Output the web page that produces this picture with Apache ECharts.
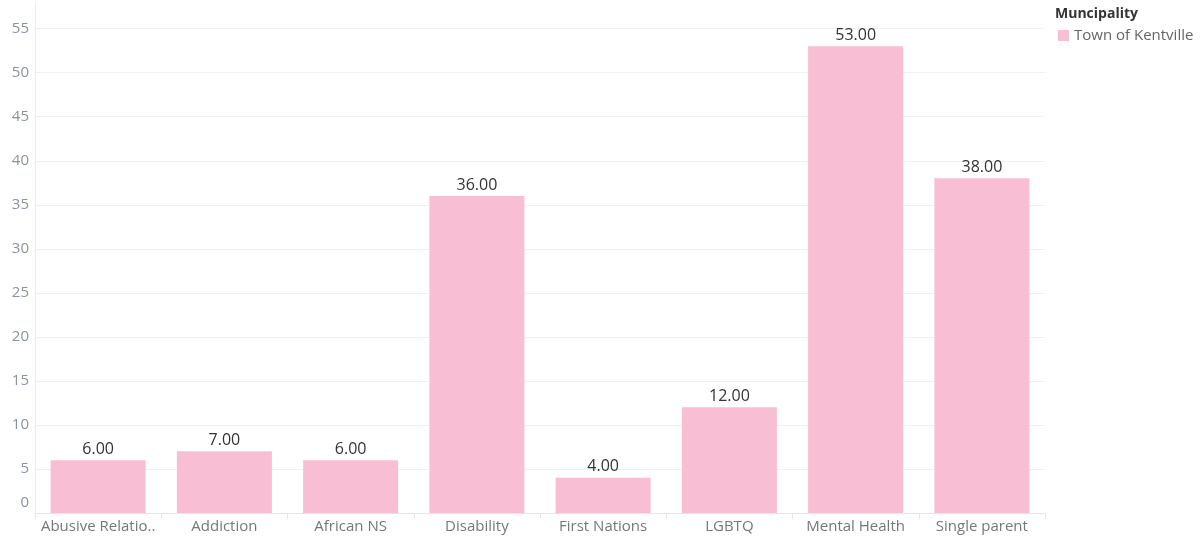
<!DOCTYPE html>
<html>
<head>
<meta charset="utf-8">
<script src="https://cdn.jsdelivr.net/npm/echarts@6/dist/echarts.min.js"></script>
<style>
  html, body { margin: 0; padding: 0; background: #fff; }
  #chart { width: 1202px; height: 539px; }
</style>
</head>
<body>
<div id="chart"></div>
<script>
// 数据
const categories = ['Abusive Relatio..', 'Addiction', 'African NS', 'Disability', 'First Nations', 'LGBTQ', 'Mental Health', 'Single parent']
const values = [6, 7, 6, 36, 4, 12, 53, 38]
const seriesName = 'Town of Kentville'
const legendTitle = 'Muncipality'

const FONT = '"Open Sans", "Noto Sans", sans-serif'
const chartDom = document.getElementById('chart')
const myChart = echarts.init(chartDom)

const option = {
    animation: false,
    textStyle: {fontFamily: FONT},
    grid: {left: 35, right: 157, top: 4, bottom: 26},
    legend: {
        left: 1058,
        top: 28,
        padding: 0,
        orient: 'vertical',
        itemWidth: 11,
        itemHeight: 11,
        itemGap: 4,
        icon: 'rect',
        textStyle: {color: '#666', fontSize: 15, fontFamily: FONT},
        data: [seriesName]
    },
    graphic: [{
        type: 'text',
        left: 1055,
        top: 7,
        style: {text: legendTitle, fill: '#333', font: 'bold 14px ' + FONT}
    }],
    xAxis: {
        type: 'category',
        data: categories,
        axisLine: {show: true, lineStyle: {color: '#e6e6e6'}},
        axisTick: {show: true, interval: 0, length: 6, lineStyle: {color: '#e6e6e6'}},
        axisLabel: {color: '#777', fontSize: 15, margin: 6, interval: 0}
    },
    yAxis: {
        type: 'value',
        min: 0,
        max: 57.8,
        interval: 5,
        axisLine: {show: true, lineStyle: {color: '#ececec'}},
        axisTick: {show: false},
        axisLabel: {
            color: '#8a93a0',
            fontSize: 15,
            margin: 6,
            showMaxLabel: false,
            formatter: function (v) {
                return v === 0 ? '{z|0}' : String(v)
            },
            rich: {z: {fontSize: 15, color: '#8a93a0', padding: [0, 0, 20, 0]}}
        },
        splitLine: {show: true, showMaxLine: false, lineStyle: {color: '#f0f0f0'}}
    },
    series: [{
        name: seriesName,
        type: 'bar',
        data: values,
        barWidth: 95,
        itemStyle: {color: '#f8bed3'},
        label: {
            show: true,
            position: 'top',
            distance: 3,
            color: '#333',
            fontSize: 16,
            fontFamily: FONT,
            formatter: p => p.value.toFixed(2)
        }
    }]
}

option && myChart.setOption(option)
</script>
</body>
</html>
